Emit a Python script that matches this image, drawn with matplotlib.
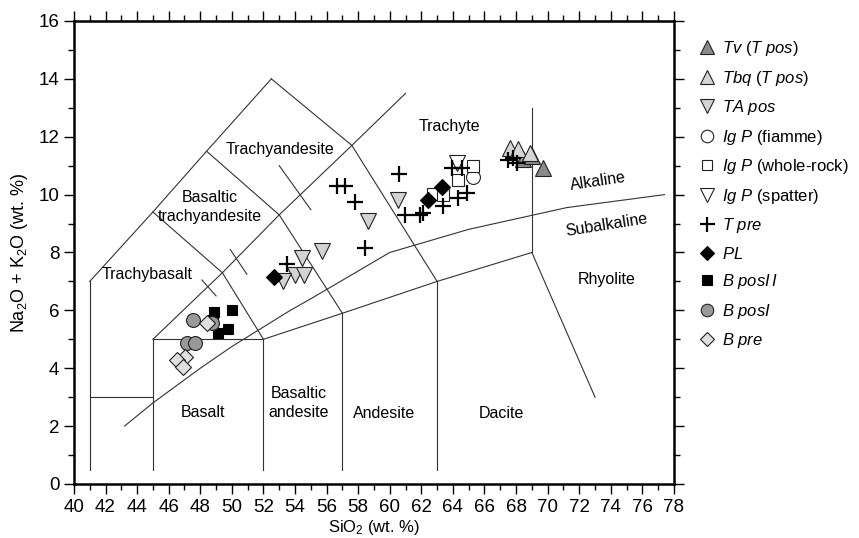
"""TAS diagram (total alkali vs silica) with sample groups."""
import matplotlib
matplotlib.use("Agg")
import matplotlib.pyplot as plt
from matplotlib.ticker import MultipleLocator

plt.rcParams["font.family"] = ["Liberation Sans", "DejaVu Sans"]
plt.rcParams["mathtext.fontset"] = "custom"
plt.rcParams["mathtext.rm"] = "Liberation Sans"
plt.rcParams["mathtext.it"] = "Liberation Sans:italic"

# sample data (SiO2, Na2O+K2O)
tv_x = [68.46, 68.99, 69.68]
tv_y = [11.23, 11.33, 10.92]
tbq_x = [67.62, 68.15, 68.88]
tbq_y = [11.61, 11.56, 11.44]
ta_x = [54.42, 55.69, 54.0, 54.57, 53.26, 58.64, 60.5]
ta_y = [7.81, 8.04, 7.23, 7.23, 7.0, 9.1, 9.8]
fiamme_x = [65.25]
fiamme_y = [10.61]
whole_x = [62.75, 63.39, 64.34, 65.29]
whole_y = [10.03, 10.0, 10.52, 10.98]
spatter_x = [64.24]
spatter_y = [11.1]
tpre_x = [53.47, 56.63, 57.16, 57.8, 58.43, 60.6, 60.96, 61.9, 62.1, 63.39,
          64.34, 64.91, 63.92, 64.55, 67.5, 67.82, 68.04]
tpre_y = [7.61, 10.29, 10.31, 9.75, 8.16, 10.72, 9.31, 9.31, 9.37, 9.6,
          9.89, 10.06, 10.92, 10.92, 11.21, 11.27, 11.1]
pl_x = [52.69, 62.45, 63.28]
pl_y = [7.17, 9.83, 10.27]
bpos2_x = [48.89, 49.99, 49.10, 49.73, 48.78]
bpos2_y = [5.94, 6.0, 5.21, 5.35, 5.67]
bpos1_x = [47.56, 48.72, 47.18, 47.66]
bpos1_y = [5.67, 5.58, 4.87, 4.87]
bpre_x = [48.4, 47.03, 46.5, 46.92]
bpre_y = [5.58, 4.40, 4.29, 4.04]

# field boundaries of the classification grid
boundaries = [
    ([41, 41], [0.5, 7]),
    ([41, 45], [3, 3]),
    ([45, 45], [0.5, 5]),
    ([52, 52], [0.5, 5]),
    ([57, 57], [0.5, 5.9]),
    ([63, 63], [0.5, 7]),
    ([45, 52], [5, 5]),
    ([52, 57, 63, 69], [5, 5.9, 7, 8]),
    ([69, 69], [8, 13]),
    ([69, 73], [8, 3]),
    ([41, 45, 48.4, 52.5], [7, 9.4, 11.5, 14]),
    ([52.5, 57.6, 63], [14, 11.7, 7]),
    ([45, 49.4, 53, 57.6, 61], [5, 7.3, 9.3, 11.7, 13.5]),
    ([45, 49.4, 52], [9.4, 7.3, 5]),
    ([48.4, 53, 57], [11.5, 9.3, 5.9]),
    ([48.1, 49.0], [7.05, 6.5]),
    ([49.9, 50.95], [8.1, 7.25]),
    ([53.0, 55.0], [11.0, 9.48]),
]
alk_x = [43.2, 45, 48, 50, 53.7, 55, 60, 65, 71.2, 77.4]
alk_y = [2.0, 2.8, 4.0, 4.75, 6.0, 6.4, 8.0, 8.8, 9.55, 10.0]

fields = [
    ("Trachyte", 63.8, 12.35),
    ("Trachyandesite", 53.05, 11.56),
    ("Basaltic\ntrachyandesite", 48.6, 9.58),
    ("Trachybasalt", 44.62, 7.23),
    ("Basalt", 48.17, 2.46),
    ("Basaltic\nandesite", 54.25, 2.8),
    ("Andesite", 59.63, 2.42),
    ("Dacite", 67.1, 2.42),
    ("Rhyolite", 73.73, 7.06),
]

fig = plt.figure(figsize=(8.59, 5.38), dpi=100)
ax = fig.add_axes([0.0861, 0.1004, 0.6985, 0.8606])

for xs, ys in boundaries:
    ax.plot(xs, ys, color="#333333", linewidth=0.8, zorder=1)
ax.plot(alk_x, alk_y, color="#333333", linewidth=0.8, zorder=1)

for name, fx, fy in fields:
    ax.text(fx, fy, name, ha="center", va="center", fontsize=11.5,
            linespacing=1.3, zorder=2)
ax.text(73.2, 10.45, "Alkaline", ha="center", va="center", fontsize=11.5,
        rotation=8.5)
ax.text(73.76, 8.96, "Subalkaline", ha="center", va="center", fontsize=11.5,
        rotation=9)

ec = "#222222"
series = [
    (tv_x, tv_y, dict(marker="^", ms=11, mfc="#8a8a8a", mec=ec), r"$Tv$ ($T\ pos$)"),
    (tbq_x, tbq_y, dict(marker="^", ms=11, mfc="#d6d6d6", mec=ec), r"$Tbq$ ($T\ pos$)"),
    (ta_x, ta_y, dict(marker="v", ms=11, mfc="#d3d3d3", mec=ec), r"$TA\ pos$"),
    (fiamme_x, fiamme_y, dict(marker="o", ms=10, mfc="white", mec=ec), r"$Ig\ P$ (fiamme)"),
    (whole_x, whole_y, dict(marker="s", ms=8.5, mfc="white", mec=ec), r"$Ig\ P$ (whole-rock)"),
    (spatter_x, spatter_y, dict(marker="v", ms=11, mfc="white", mec=ec), r"$Ig\ P$ (spatter)"),
    (tpre_x, tpre_y, dict(marker="+", ms=12, mew=1.6, color="black"), r"$T\ pre$"),
    (pl_x, pl_y, dict(marker="D", ms=8, mfc="black", mec="black"), r"$PL$"),
    (bpos2_x, bpos2_y, dict(marker="s", ms=7.5, mfc="black", mec="black"), r"$B\ posI\,I$"),
    (bpos1_x, bpos1_y, dict(marker="o", ms=10, mfc="#999999", mec=ec), r"$B\ posI$"),
    (bpre_x, bpre_y, dict(marker="D", ms=8, mfc="#e0e0e0", mec=ec), r"$B\ pre$"),
]
for xs, ys, style, label in series:
    style.setdefault("mew", 0.8)
    ax.plot(xs, ys, linestyle="none", label=label, zorder=3, **style)

ax.set_xlim(40, 78)
ax.set_ylim(0, 16)
ax.xaxis.set_major_locator(MultipleLocator(2))
ax.xaxis.set_minor_locator(MultipleLocator(1))
ax.yaxis.set_major_locator(MultipleLocator(2))
ax.yaxis.set_minor_locator(MultipleLocator(1))
ax.tick_params(which="both", direction="out", top=True, right=True,
               labelsize=13.5, width=1)
ax.tick_params(which="major", length=7)
ax.tick_params(which="minor", length=4)
for sp in ax.spines.values():
    sp.set_linewidth(1.8)

ax.set_xlabel(r"SiO$_2$ (wt. %)", fontsize=12, labelpad=2)
ax.set_ylabel(r"Na$_2$O + K$_2$O (wt. %)", fontsize=13, labelpad=6)

ax.legend(loc="upper left", bbox_to_anchor=(1.028, 0.975), frameon=False,
          fontsize=12, labelspacing=0.63, handletextpad=0.3,
          borderaxespad=0, handlelength=1.2, markerscale=0.9)

fig.savefig("out.png", dpi=100)
